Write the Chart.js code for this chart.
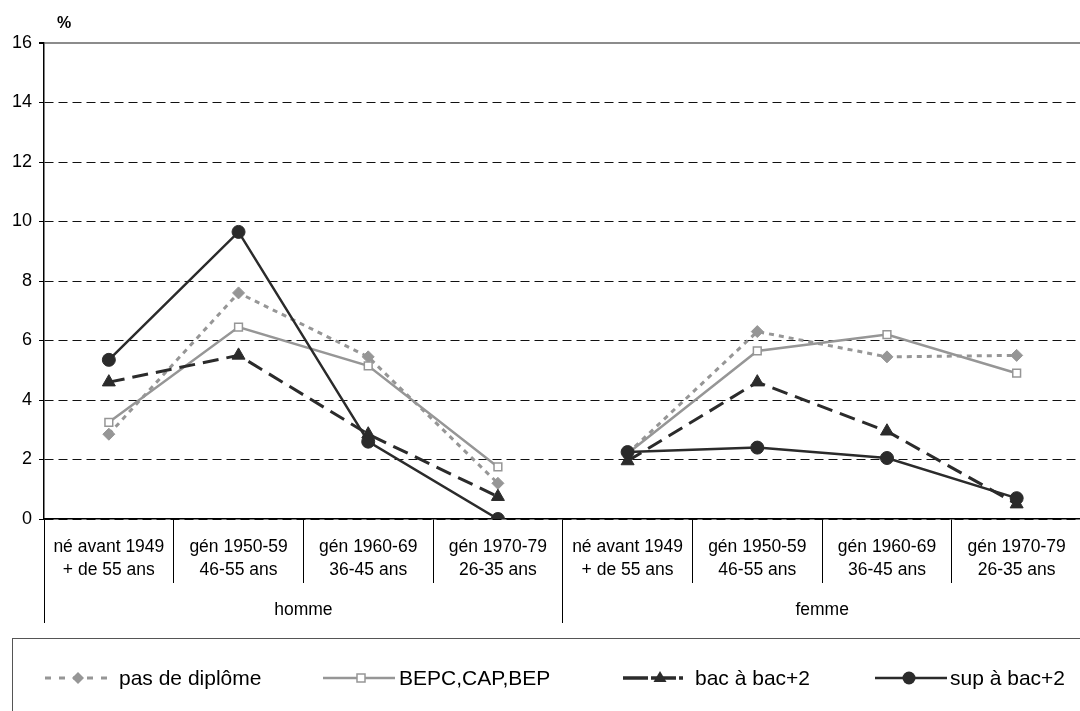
<!DOCTYPE html>
<html>
<head>
<meta charset="utf-8">
<script src="https://cdn.jsdelivr.net/npm/chart.js@4/dist/chart.umd.min.js"></script>
<style>
  body { margin: 0; background: #fff; font-family: 'Liberation Sans', Arial, sans-serif; }
  #wrap { position: absolute; left: 0; top: 0; width: 1080px; height: 711px; overflow: hidden; }
  #box { position: absolute; left: 0; top: 0; width: 1090px; height: 711px; }
  .unit { position: absolute; left: 57px; top: 14px; font-weight: bold; font-size: 16px; }
  #legend { position: absolute; left: 12px; top: 638px; width: 1100px; height: 120px; border: 1px solid #555; box-sizing: border-box; }
  .lab { position: absolute; top: 665px; font-size: 21px; line-height: 26px; color: #000; white-space: nowrap; }
  svg { position: absolute; left: 0; top: 0; }
</style>
</head>
<body>
<div id="wrap">
  <div id="box"><canvas id="chart"></canvas></div>
  <div class="unit">%</div>
  <div id="legend"></div>
  <svg width="1080" height="711" id="legsvg"></svg>
  <span class="lab" style="left:119px">pas de diplôme</span>
  <span class="lab" style="left:399px">BEPC,CAP,BEP</span>
  <span class="lab" style="left:695px">bac à bac+2</span>
  <span class="lab" style="left:950px">sup à bac+2</span>
</div>
<script>
// categories
const ageGroups = [
  ['né avant 1949', '+ de 55 ans'],
  ['gén 1950-59', '46-55 ans'],
  ['gén 1960-69', '36-45 ans'],
  ['gén 1970-79', '26-35 ans'],
];
const categories = [...ageGroups, ...ageGroups];
const sexes = ['homme', 'femme'];
const yTicks = [0, 2, 4, 6, 8, 10, 12, 14, 16];

// values in % (homme x4, femme x4)
const pasDeDiplome = [2.85, 7.6, 5.45, 1.2, 2.2, 6.3, 5.45, 5.5];
const bepcCapBep = [3.25, 6.45, 5.15, 1.75, 2.2, 5.65, 6.2, 4.9];
const bacBac2 = [4.6, 5.5, 2.85, 0.75, 1.95, 4.6, 2.95, 0.5];
const supBac2 = [5.35, 9.65, 2.6, 0.0, 2.25, 2.4, 2.05, 0.7];

const GREY = '#969696';
const DARK = '#2b2b2b';
const FONT = "'Liberation Sans', Arial, sans-serif";

// no line between homme and femme
const gap = { borderColor: (ctx) => (ctx.p0DataIndex === 3 ? 'rgba(0,0,0,0)' : undefined) };

const datasets = [
  {
    label: 'pas de diplôme', data: pasDeDiplome, order: 4,
    borderColor: GREY, borderWidth: 3, borderDash: [5, 5],
    pointStyle: 'rectRot', pointRadius: 6, pointBackgroundColor: GREY, pointBorderColor: GREY, pointBorderWidth: 1,
  },
  {
    label: 'BEPC,CAP,BEP', data: bepcCapBep, order: 3,
    borderColor: GREY, borderWidth: 2.5,
    pointStyle: 'rect', pointRadius: 5.5, pointBackgroundColor: '#fff', pointBorderColor: GREY, pointBorderWidth: 1.5,
  },
  {
    label: 'bac à bac+2', data: bacBac2, order: 2,
    borderColor: DARK, borderWidth: 3, borderDash: [16, 8],
    pointStyle: 'triangle', pointRadius: 7.5, pointBackgroundColor: DARK, pointBorderColor: DARK, pointBorderWidth: 1,
  },
  {
    label: 'sup à bac+2', data: supBac2, order: 1,
    borderColor: DARK, borderWidth: 2.5,
    pointStyle: 'circle', pointRadius: 6.5, pointBackgroundColor: DARK, pointBorderColor: DARK, pointBorderWidth: 1,
  },
].map((d) => ({ ...d, tension: 0, fill: false, segment: gap }));

new Chart(document.getElementById('chart'), {
  type: 'line',
  data: { labels: categories, datasets },
  options: {
    responsive: true,
    maintainAspectRatio: false,
    animation: false,
    layout: { padding: { top: 43, right: 0, bottom: 88, left: 0 } },
    plugins: { legend: { display: false }, tooltip: { enabled: false } },
    scales: {
      y: {
        min: 0, max: 16,
        afterFit: (s) => { s.width = 44; },
        afterBuildTicks: (s) => { s.ticks = yTicks.map((v) => ({ value: v })); },
        ticks: { stepSize: 2, color: '#000', padding: 7, font: { family: FONT, size: 18 } },
        grid: {
          color: (c) => (c.tick && c.tick.value === 16 ? '#8c8c8c' : '#111'),
          lineWidth: (c) => (c.tick && c.tick.value === 16 ? 2 : 1),
          tickLength: 5, tickColor: '#000',
        },
        border: { color: '#000', width: 1.5, dash: (c) => (c.tick && c.tick.value === 16 ? [] : [9, 5]) },
      },
      x: {
        offset: true,
        afterFit: (s) => { s.height = 64; },
        ticks: { color: '#000', padding: -47.5, maxRotation: 0, autoSkip: false, font: { family: FONT, size: 17.5, lineHeight: 1.32 } },
        grid: { offset: true, drawOnChartArea: false, tickLength: 64, color: '#000', lineWidth: 1 },
        border: { color: '#000', width: 1.5 },
      },
      x2: {
        type: 'category',
        labels: sexes,
        position: 'bottom',
        offset: true,
        afterFit: (s) => { s.height = 40; },
        ticks: { color: '#000', padding: -23, maxRotation: 0, font: { family: FONT, size: 17.5 } },
        grid: { offset: true, drawOnChartArea: false, tickLength: 40, color: '#000', lineWidth: 1 },
        border: { display: false },
      },
    },
  },
});

// legend samples
const svg = document.getElementById('legsvg');
const cy = 678;
const samples = [
  `<line x1="45" y1="${cy}" x2="112" y2="${cy}" stroke="${GREY}" stroke-width="3" stroke-dasharray="6 8"/>
   <polygon points="78,${cy - 6} 84,${cy} 78,${cy + 6} 72,${cy}" fill="${GREY}"/>`,
  `<line x1="323" y1="${cy}" x2="395" y2="${cy}" stroke="${GREY}" stroke-width="2.5"/>
   <rect x="357" y="${cy - 4}" width="8" height="8" fill="#fff" stroke="${GREY}" stroke-width="1.5"/>`,
  `<line x1="623" y1="${cy}" x2="683" y2="${cy}" stroke="${DARK}" stroke-width="3.5" stroke-dasharray="25 3"/>
   <polygon points="660,${cy - 7} 666.5,${cy + 4} 653.5,${cy + 4}" fill="${DARK}"/>`,
  `<line x1="875" y1="${cy}" x2="947" y2="${cy}" stroke="${DARK}" stroke-width="2.5"/>
   <circle cx="909" cy="${cy}" r="6.5" fill="${DARK}"/>`,
];
svg.innerHTML = samples.join('');
</script>
</body>
</html>
